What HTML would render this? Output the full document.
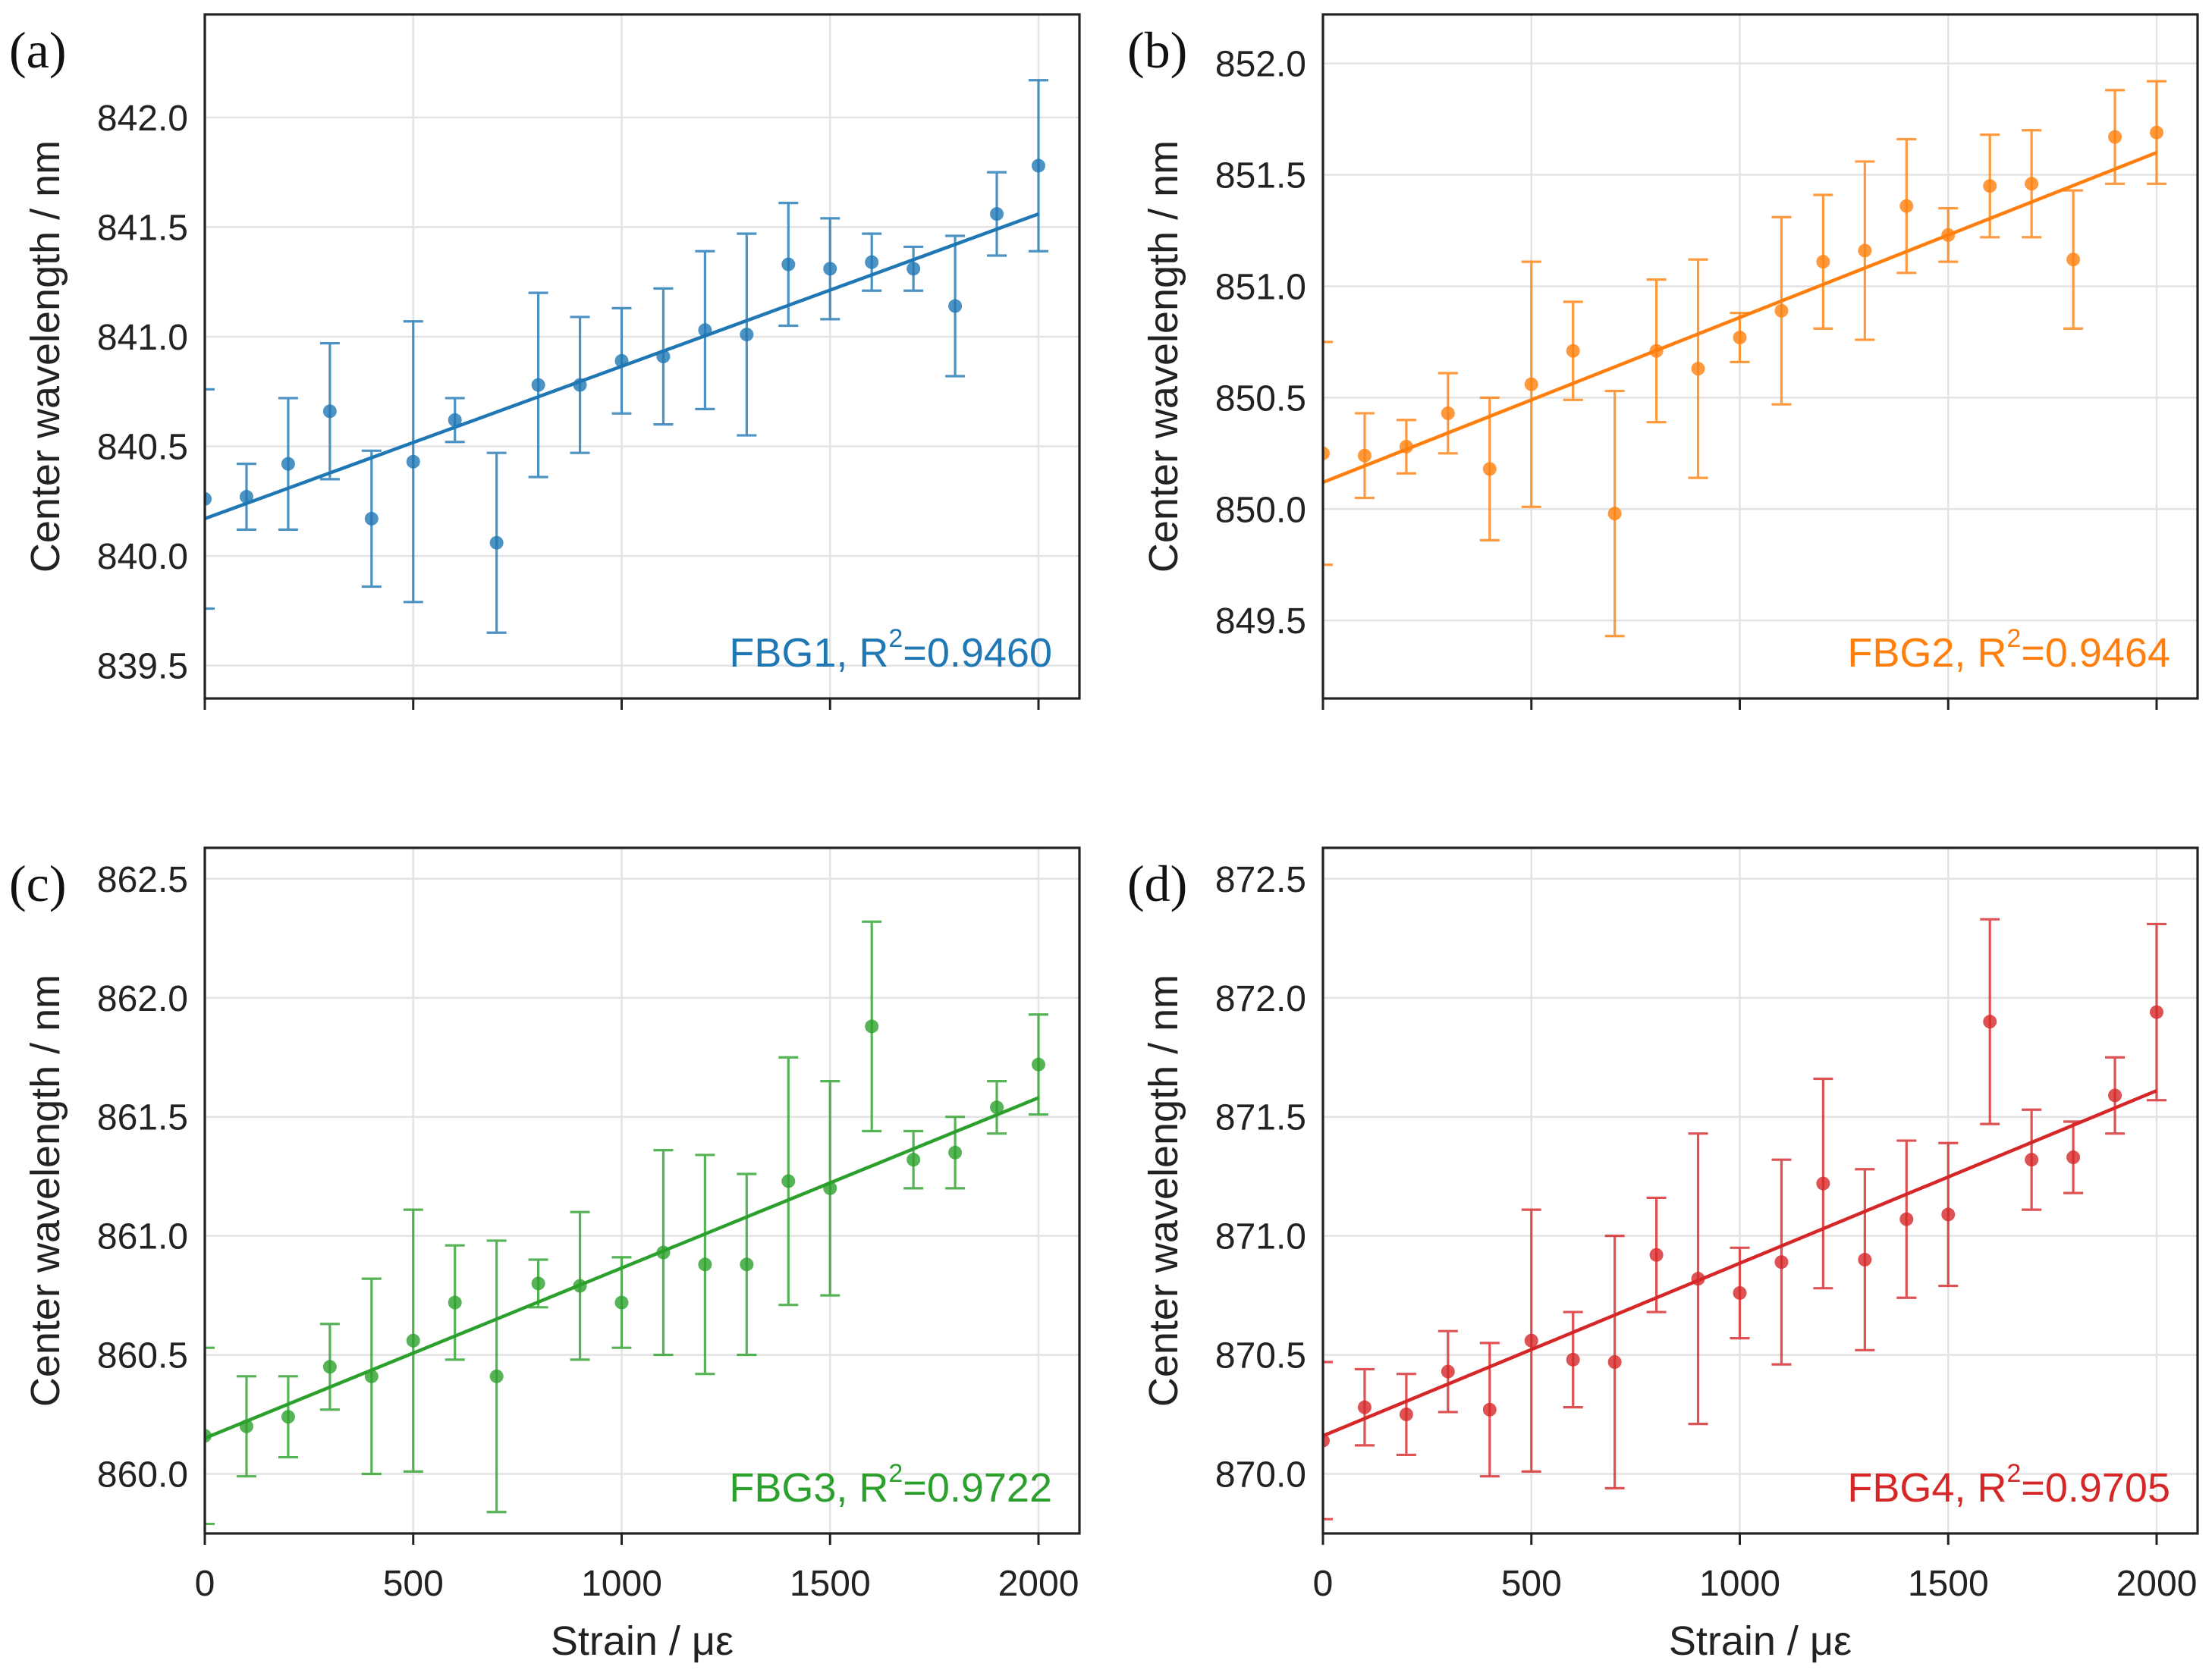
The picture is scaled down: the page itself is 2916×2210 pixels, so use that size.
<!DOCTYPE html>
<html><head><meta charset="utf-8">
<style>
html,body{margin:0;padding:0;background:#fff;}
svg{display:block;font-family:"Liberation Sans",Arial,sans-serif;}
</style></head>
<body>
<svg id="fig" width="2916" height="2210" viewBox="0 0 2916 2210" xmlns="http://www.w3.org/2000/svg"></svg>
<script>
const strain = [0,100,200,300,400,500,600,700,800,900,1000,1100,1200,1300,1400,1500,1600,1700,1800,1900,2000];
const xTicks = [0,500,1000,1500,2000];
const fbg1 = [840.26,840.27,840.42,840.66,840.17,840.43,840.62,840.06,840.78,840.78,840.89,840.91,841.03,841.01,841.33,841.31,841.34,841.31,841.14,841.56,841.78];
const err1 = [0.5,0.15,0.3,0.31,0.31,0.64,0.1,0.41,0.42,0.31,0.24,0.31,0.36,0.46,0.28,0.23,0.13,0.1,0.32,0.19,0.39];
const fit1 = [840.17,841.56];
const fbg2 = [850.25,850.24,850.28,850.43,850.18,850.56,850.71,849.98,850.71,850.63,850.77,850.89,851.11,851.16,851.36,851.23,851.45,851.46,851.12,851.67,851.69];
const err2 = [0.5,0.19,0.12,0.18,0.32,0.55,0.22,0.55,0.32,0.49,0.11,0.42,0.3,0.4,0.3,0.12,0.23,0.24,0.31,0.21,0.23];
const fit2 = [850.12,851.60];
const fbg3 = [860.16,860.20,860.24,860.45,860.41,860.56,860.72,860.41,860.80,860.79,860.72,860.93,860.88,860.88,861.23,861.20,861.88,861.32,861.35,861.54,861.72];
const err3 = [0.37,0.21,0.17,0.18,0.41,0.55,0.24,0.57,0.1,0.31,0.19,0.43,0.46,0.38,0.52,0.45,0.44,0.12,0.15,0.11,0.21];
const fit3 = [860.15,861.58];
const fbg4 = [870.14,870.28,870.25,870.43,870.27,870.56,870.48,870.47,870.92,870.82,870.76,870.89,871.22,870.90,871.07,871.09,871.90,871.32,871.33,871.59,871.94];
const err4 = [0.33,0.16,0.17,0.17,0.28,0.55,0.2,0.53,0.24,0.61,0.19,0.43,0.44,0.38,0.33,0.3,0.43,0.21,0.15,0.16,0.37];
const fit4 = [870.16,871.61];
const yTicks1 = [839.5,840.0,840.5,841.0,841.5,842.0];
const yTicks2 = [849.5,850.0,850.5,851.0,851.5,852.0];
const yTicks3 = [860.0,860.5,861.0,861.5,862.0,862.5];
const yTicks4 = [870.0,870.5,871.0,871.5,872.0,872.5];
const labels = ["FBG1, R","FBG2, R","FBG3, R","FBG4, R"];
const r2 = ["=0.9460","=0.9464","=0.9722","=0.9705"];

const NS="http://www.w3.org/2000/svg";
const svg=document.getElementById('fig');
function mk(tag,attrs,parent){const e=document.createElementNS(NS,tag);for(const k in attrs)e.setAttribute(k,attrs[k]);(parent||svg).appendChild(e);return e;}

const panels=[
 {id:'a',L:270,R:1423,T:19,B:921,y0:839.35,y1:842.47,vals:fbg1,err:err1,fit:fit1,ticks:yTicks1,col:'#1f77b4',showX:false},
 {id:'b',L:1744,R:2897,T:19,B:921,y0:849.15,y1:852.22,vals:fbg2,err:err2,fit:fit2,ticks:yTicks2,col:'#ff7f0e',showX:false},
 {id:'c',L:270,R:1423,T:1118,B:2022,y0:859.75,y1:862.63,vals:fbg3,err:err3,fit:fit3,ticks:yTicks3,col:'#2ca02c',showX:true},
 {id:'d',L:1744,R:2897,T:1118,B:2022,y0:869.75,y1:872.63,vals:fbg4,err:err4,fit:fit4,ticks:yTicks4,col:'#d62728',showX:true}
];

panels.forEach((p,pi)=>{
  const g=mk('g',{});
  
  
  const xs=v=>p.L+(v-0)/2000*(1369-270);
  const ys=v=>p.B-(v-p.y0)/(p.y1-p.y0)*(p.B-p.T);
  const cp=mk('clipPath',{id:'clip'+p.id},g);
  mk('rect',{x:p.L,y:p.T,width:p.R-p.L,height:p.B-p.T},cp);
  xTicks.forEach(t=>{const l=mk('line',{x1:xs(t),x2:xs(t),y1:p.T,y2:p.B,stroke:'#e3e3e3','stroke-width':2.5},g);
    });
  p.ticks.forEach(t=>{const l=mk('line',{x1:p.L,x2:p.R,y1:ys(t),y2:ys(t),stroke:'#e3e3e3','stroke-width':2.5},g);
    
    const tx=mk('text',{x:p.L-22,y:ys(t)+17,'text-anchor':'end','font-size':48,fill:'#222'},g);tx.textContent=t.toFixed(1);
    });
  xTicks.forEach(t=>{const l=mk('line',{x1:xs(t),x2:xs(t),y1:p.B,y2:p.B+15,stroke:'#222','stroke-width':3},g);
    
    if(p.showX){const tx=mk('text',{x:xs(t),y:p.B+82,'text-anchor':'middle','font-size':48,fill:'#222'},g);tx.textContent=t;
      }});
  const dg=mk('g',{'clip-path':'url(#clip'+p.id+')'},g);
  strain.forEach((s,i)=>{
    const x=xs(s),yc=ys(p.vals[i]),yt=ys(p.vals[i]+p.err[i]),yb=ys(p.vals[i]-p.err[i]);
    const eb=mk('path',{d:`M${x},${yt}V${yb}M${x-13},${yt}H${x+13}M${x-13},${yb}H${x+13}`,stroke:p.col,'stroke-width':3.2,fill:'none',opacity:0.8},dg);
    
    const c=mk('circle',{cx:x,cy:yc,r:9,fill:p.col,opacity:0.8},dg);
    
  });
  const fl=mk('line',{x1:xs(0),y1:ys(p.fit[0]),x2:xs(2000),y2:ys(p.fit[1]),stroke:p.col,'stroke-width':4.5},dg);
  
  const fr=mk('rect',{x:p.L,y:p.T,width:p.R-p.L,height:p.B-p.T,fill:'none',stroke:'#222','stroke-width':3.2},g);
  
  const an=mk('text',{x:p.R-36,y:p.B-42,'text-anchor':'end','font-size':54,fill:p.col},g);
  
  const t1=mk('tspan',{},an);t1.textContent=labels[pi];
  const t2=mk('tspan',{dy:-26,'font-size':34},an);t2.textContent='2';
  const t3=mk('tspan',{dy:26},an);t3.textContent=r2[pi];
  const cy=(p.T+p.B)/2, lx=p.L-192;
  const yl=mk('text',{x:lx,y:cy,'text-anchor':'middle','font-size':54,fill:'#222',transform:`rotate(-90 ${lx} ${cy})`},g);
  yl.textContent='Center wavelength / nm';
  
  if(p.showX){const xl=mk('text',{x:(p.L+p.R)/2,y:2182,'text-anchor':'middle','font-size':54,fill:'#222'},g);
    xl.textContent='Strain / \u03bc\u03b5';}
  const pl=mk('text',{x:p.L-258,y:p.T+70,'font-size':68,fill:'#111','font-family':'"Liberation Serif",serif'},g);
  pl.textContent='('+p.id+')';
});
</script>
</body></html>
